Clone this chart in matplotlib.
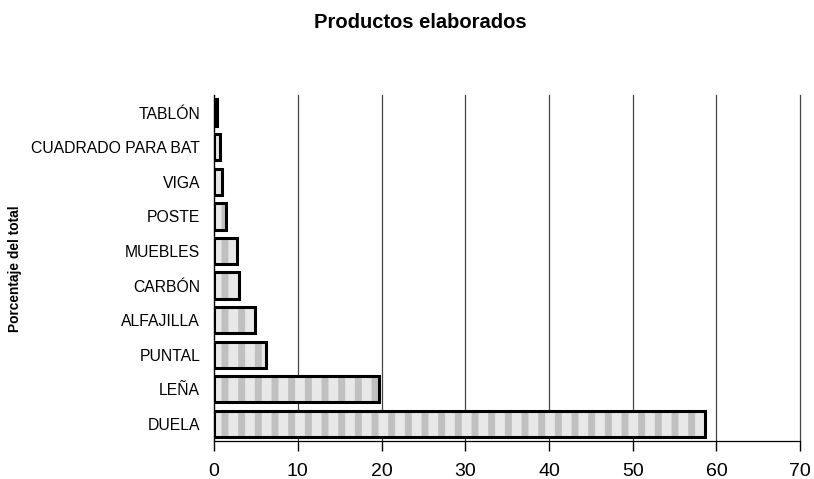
import matplotlib.pyplot as plt
import numpy as np

plt.rcParams['font.family'] = ['Liberation Sans', 'DejaVu Sans']
plt.rcParams['hatch.linewidth'] = 5.0

# Datos
productos = ['DUELA', 'LEÑA', 'PUNTAL', 'ALFAJILLA', 'CARBÓN', 'MUEBLES',
             'POSTE', 'VIGA', 'CUADRADO PARA BAT', 'TABLÓN']
porcentaje = [58.6, 19.7, 6.2, 4.9, 3.0, 2.7, 1.4, 0.9, 0.7, 0.4]
xticks = [0, 10, 20, 30, 40, 50, 60, 70]

fig = plt.figure(figsize=(8.14, 4.79), dpi=100)
ax = fig.add_axes([0.263, 0.079, 0.72, 0.722])

pos = np.arange(len(productos))
# relleno con trama gris, luego el borde negro encima
ax.barh(pos, porcentaje, height=0.76, color='#e8e8e8', edgecolor='#c0c0c0',
        linewidth=0, hatch='|', zorder=3)
ax.barh(pos, porcentaje, height=0.76, color='none', edgecolor='black',
        linewidth=2.2, zorder=4)

ax.set_xlim(0, 70)
ax.set_ylim(-0.5, len(productos) - 0.5)
ax.set_xticks(xticks)
ax.set_xticklabels([str(t) for t in xticks], fontsize=14)
ax.set_yticks(pos)
ax.set_yticklabels(productos, fontsize=11.3)
ax.tick_params(axis='y', length=0, pad=10)
ax.tick_params(axis='x', length=7, width=1, direction='out', pad=9)

ax.xaxis.grid(True, color='#444444', linewidth=0.9)
for gl in ax.get_xgridlines():
    gl.set_clip_on(False)
ax.set_axisbelow(True)
for s in ['top', 'right']:
    ax.spines[s].set_visible(False)
ax.spines['left'].set_linewidth(0.9)
ax.spines['bottom'].set_linewidth(0.9)

fig.text(0.516, 0.953, 'Productos elaborados', ha='center', va='center',
         fontsize=14.5, fontweight='bold')
fig.text(0.019, 0.44, 'Porcentaje del total', ha='center', va='center',
         rotation=90, fontsize=9.9, fontweight='bold')

fig.savefig('out.png', dpi=100)
